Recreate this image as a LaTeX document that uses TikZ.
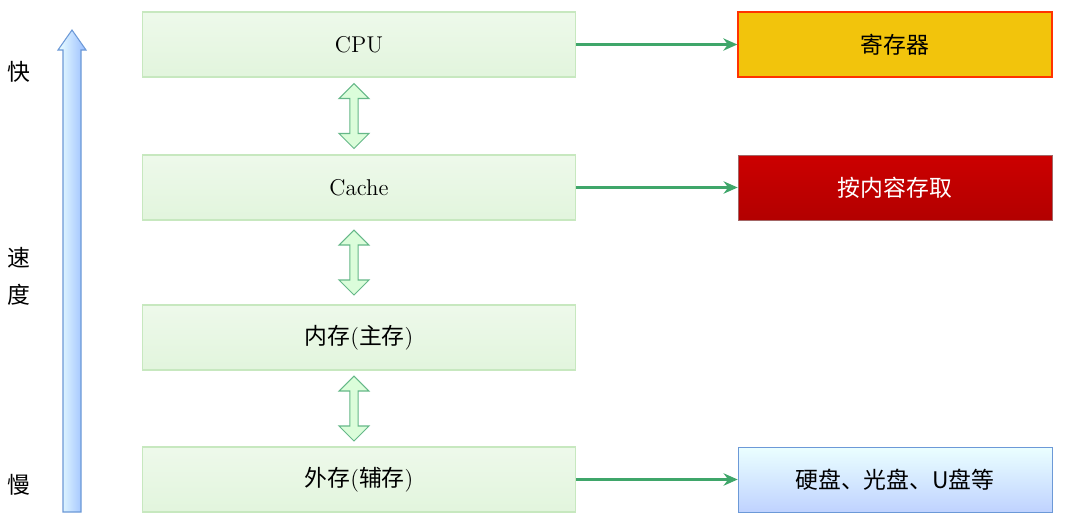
\documentclass[tikz,border=0pt]{standalone}
\usepackage{fontspec}
\newfontfamily\cjk{Noto Sans CJK SC}
\usetikzlibrary{shapes.arrows,arrows.meta}
\definecolor{boxg}{HTML}{E2F5DD}
\definecolor{boxgd}{HTML}{C7E8BF}
\definecolor{lineg}{HTML}{3FA66A}
\definecolor{gold}{HTML}{F2C40C}
\begin{document}
\begin{tikzpicture}[x=0.02cm,y=-0.02cm,
  lvl/.style={draw=boxgd,line width=0.6pt,top color=white!40!boxg,bottom color=boxg,minimum width=8.68cm,minimum height=1.3cm,inner sep=0pt,font=\fontsize{13}{15}\selectfont},
  side/.style={minimum width=6.28cm,minimum height=1.3cm,inner sep=0pt,font=\cjk\fontsize{13}{15}\selectfont},
  dbl/.style={double arrow,draw=lineg!80,fill=boxg!60!green!30,line width=0.6pt,rotate=90,minimum height=1.3cm,minimum width=0.6cm,double arrow head extend=0.12cm,inner sep=1pt},
  conn/.style={draw=lineg,line width=1.2pt,-{Stealth[length=8pt,width=7pt]}},
  lab/.style={font=\cjk\fontsize{13}{15}\selectfont}]
\useasboundingbox (0,0) rectangle (1066,525);
\fill[white] (0,0) rectangle (1066,525);
\node[lvl] (cpu) at (359,44.5) {CPU};
\node[lvl] (cache) at (359,187.5) {Cache};
\node[lvl] (mem) at (359,337.5) {{\cjk 内存}({\cjk 主存})};
\node[lvl] (ext) at (359,479.5) {{\cjk 外存}({\cjk 辅存})};
\node[side,draw=red!60!orange,fill=gold,line width=0.8pt] (reg) at (895,44.5) {寄存器};
\node[side,draw=red!40!black!60,top color=red!80!black,bottom color=red!70!black,text=white] (cont) at (895,187.5) {按内容存取};
\node[side,draw=cyan!50!blue!60,top color=cyan!8,bottom color=cyan!30!blue!25] (disk) at (895,479.5) {硬盘、光盘、U盘等};
\node[dbl] (d1) at (354,116) {};
\node[dbl] (d2) at (354,262.5) {};
\node[dbl] (d3) at (354,408.5) {};
\draw[conn] (cpu.east) -- (reg.west);
\draw[conn] (cache.east) -- (cont.west);
\draw[conn] (ext.east) -- (disk.west);
\shade[draw=cyan!50!blue!60,left color=cyan!8,right color=cyan!35!blue!40,line width=0.6pt]
  (63,512) -- (63,50) -- (58,50) -- (72,30) -- (86,50) -- (81,50) -- (81,512) -- cycle;
\node[lab] (fast) at (19,72) {快};
\node[lab] (s1) at (19,258) {速};
\node[lab] (s2) at (19,295) {度};
\node[lab] (slow) at (19,485) {慢};
\end{tikzpicture}
\end{document}
